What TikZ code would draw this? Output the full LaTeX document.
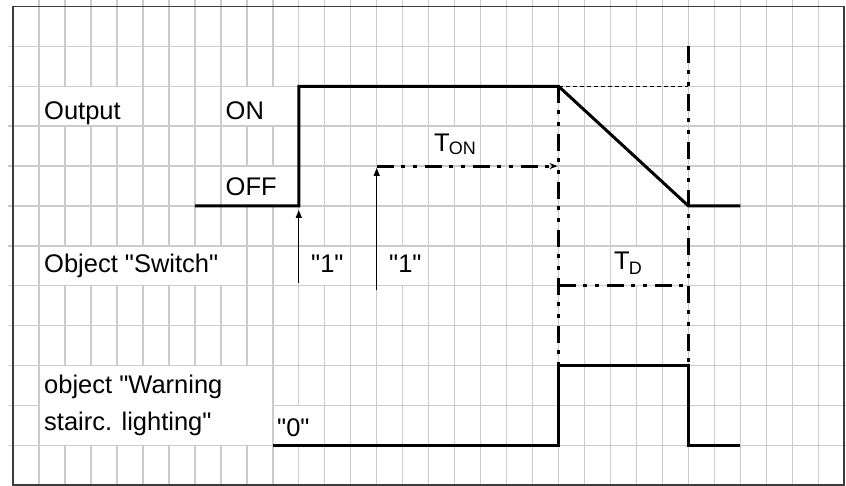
\documentclass[tikz,border=0pt]{standalone}
\usepackage{fontspec}
\setmainfont{Liberation Sans}
\newfontfamily\lbfont{Liberation Sans}
\usetikzlibrary{arrows.meta}
\definecolor{gridgray}{RGB}{204,204,204}
\definecolor{framegray}{RGB}{60,60,60}
\newcommand{\gxx}[1]{13+25.98*#1}
\newcommand{\gyy}[1]{6.5+39.9*#1}
\newcommand{\subfont}{\fontsize{18}{20}\selectfont}
\begin{document}
\begin{tikzpicture}[x=1pt,y=-1pt,
  gridline/.style={draw=gridgray,line width=1.4pt},
  frame/.style={draw=framegray,line width=1.8pt},
  signal/.style={line width=3pt,line join=miter,line cap=butt},
  dashdot/.style={line width=3pt,dash pattern=on 17pt off 7pt on 4pt off 8pt on 4pt off 8pt},
  thindash/.style={line width=1.3pt,dash pattern=on 4pt off 3pt},
  trig/.style={line width=1.4pt,-{Triangle[length=8pt,width=6pt]}},
  lbl/.style={anchor=base west,inner sep=0pt,font=\lbfont\fontsize{25.5}{30}\selectfont},
  blank/.style={fill=white,draw=none}
]
\useasboundingbox (0,0) rectangle (846,486);
% grid
\foreach \k in {1,...,31} \draw[gridline] ({\gxx{\k}},0) -- ({\gxx{\k}},486);
\foreach \k in {1,...,11} \draw[gridline] (8,{\gyy{\k}}) -- (846,{\gyy{\k}});
% white label boxes (c1,r1,c2,r2)
\foreach \ca/\ra/\cb/\rb in {1/2/5/3, 8/2/11/3, 8/4/11/5, 16/3/18/4, 1/6/9/7, 11/6/13/7, 14/6/16/7, 23/6/25/7, 1/9/10/11, 10/10/12/11}
  \fill[white] ({\gxx{\ca}+0.7},{\gyy{\ra}+0.7}) rectangle ({\gxx{\cb}-0.7},{\gyy{\rb}-0.7});
% frame
\draw[frame] ({\gxx{0}},{\gyy{0}}) rectangle ({\gxx{32}},{\gyy{12}});
% key coordinates
\coordinate (o0) at ({\gxx{7}},{\gyy{5}});
\coordinate (o1) at ({\gxx{11}},{\gyy{5}});
\coordinate (o2) at ({\gxx{11}},{\gyy{2}});
\coordinate (o3) at ({\gxx{21}},{\gyy{2}});
\coordinate (o4) at ({\gxx{26}},{\gyy{5}});
\coordinate (o5) at ({\gxx{28}},{\gyy{5}});
\coordinate (w0) at ({\gxx{10}},{\gyy{11}});
\coordinate (w1) at ({\gxx{21}},{\gyy{11}});
\coordinate (w2) at ({\gxx{21}},{\gyy{9}});
\coordinate (w3) at ({\gxx{26}},{\gyy{9}});
\coordinate (w4) at ({\gxx{26}},{\gyy{11}});
\coordinate (w5) at ({\gxx{28}},{\gyy{11}});
\coordinate (btop) at ({\gxx{26}},{\gyy{1}});
\coordinate (ref2) at ({\gxx{26}},{\gyy{2}});
\coordinate (tdl) at ({\gxx{21}},{\gyy{7}});
\coordinate (tdr) at ({\gxx{26}},{\gyy{7}});
\coordinate (tonl) at ({\gxx{14}},{\gyy{4}});
\coordinate (tonr) at ({\gxx{21}-1},{\gyy{4}});
\coordinate (s1b) at ({\gxx{11}},283);
\coordinate (s1t) at ({\gxx{11}},210);
\coordinate (s2b) at ({\gxx{14}},290);
\coordinate (s2t) at ({\gxx{14}},168);
% time references
\draw[thindash] (o3) -- (ref2);
\draw[dashdot] (o3) -- (w2);
\draw[dashdot] (btop) -- (w3);
\draw[dashdot] (tdl) -- (tdr);
\draw[dashdot,-{Stealth[length=8pt,width=6pt]}] (tonl) -- (tonr);
% trigger arrows
\draw[trig] (s1b) -- (s1t);
\draw[trig] (s2b) -- (s2t);
% signals
\draw[signal] (o0) -- (o1) -- (o2) -- (o3) -- (o4) -- (o5);
\draw[signal] (w0) -- (w1) -- (w2) -- (w3) -- (w4) -- (w5);
% labels
\node[lbl] (tout) at (44,120) {Output};
\node[lbl] (ton) at (225.5,120) {ON};
\node[lbl] (toff) at (225.5,196) {OFF};
\node[lbl] (tsw) at (44,273) {Object "Switch"};
\node[lbl] (tone1) at (311,273) {"1"};
\node[lbl] (tone2) at (389,273) {"1"};
\node[lbl] (tton) at (434,151.7) {T\hspace{-1pt}\raisebox{-3.3pt}{\subfont ON}};
\node[lbl] (ttd) at (614,270) {T\hspace{-1pt}\raisebox{-5pt}{\subfont D}};
\node[lbl] (tw1) at (44,393) {object "Warning};
\node[lbl] (tw2) at (44,430) {stairc. lighting"};
\node[lbl] (tzero) at (277,436) {"0"};
\end{tikzpicture}
\end{document}
